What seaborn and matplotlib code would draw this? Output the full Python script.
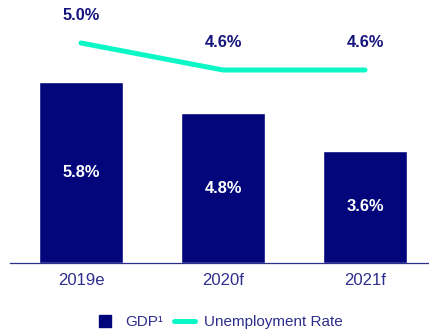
import matplotlib
matplotlib.use("Agg")
import matplotlib.pyplot as plt
from matplotlib.lines import Line2D
import seaborn as sns
import pandas as pd
import numpy as np

categories = ["2019e", "2020f", "2021f"]
gdp = [5.8, 4.8, 3.6]
unemployment = [5.0, 4.6, 4.6]
gdp_labels = ["5.8%", "4.8%", "3.6%"]
unemp_labels = ["5.0%", "4.6%", "4.6%"]

BAR = "#02067A"
LINE = "#0CF7C6"
TXT = "#14147C"
TICK = "#2E2E8C"

sns.set_style("white")
plt.rcParams["font.family"] = ["Liberation Sans", "DejaVu Sans"]

df = pd.DataFrame({"cat": categories, "gdp": gdp, "unemp": unemployment,
                   "pos": np.arange(len(categories))})

fig = plt.figure(figsize=(4.29, 3.35), dpi=100)
ax = fig.add_axes([0, 72 / 335, 1, 263 / 335])
sns.barplot(data=df, x="cat", y="gdp", color=BAR, width=0.59, saturation=1, ax=ax)
ax.set_xlim(-81 / 142, 348 / 142)
ax.set_ylim(0, 263 / 31.2)
for p, lab in zip(ax.patches, gdp_labels):
    ax.text(p.get_x() + p.get_width() / 2, p.get_height() / 2, lab, ha="center", va="center",
            color="white", fontsize=11.8, fontweight="bold")

ax.set_xlabel("")
ax.set_ylabel("")
ax.set_yticks([])
for s in ["top", "right", "left"]:
    ax.spines[s].set_visible(False)
ax.spines["bottom"].set_color(TICK)
ax.spines["bottom"].set_linewidth(0.9)
ax.spines["bottom"].set_bounds(-0.5, 348 / 142)
ax.tick_params(axis="x", which="major", length=0, pad=7, labelsize=12, labelcolor=TICK)
ax.set_xticks([0.5, 1.5], minor=True)
ax.tick_params(axis="x", which="minor", length=5, width=0.9, direction="inout", color=TICK)

ax2 = ax.twinx()
sns.lineplot(data=df, x="pos", y="unemp", color=LINE, linewidth=3.6, ax=ax2,
             solid_capstyle="round")
ax2.set_ylim(5.0 - 220 / 67.5, 5.0 - 220 / 67.5 + 263 / 67.5)
ax2.set_xlim(ax.get_xlim())
ax2.set_yticks([])
ax2.set_ylabel("")
ax2.set_xlabel("")
for s in ["top", "right", "left", "bottom"]:
    ax2.spines[s].set_visible(False)
for x, y, lab in zip(df["pos"], unemployment, unemp_labels):
    ax2.annotate(lab, (x, y), xytext=(0, 20), textcoords="offset points", ha="center",
                 va="center", color=TXT, fontsize=11.8, fontweight="bold")

handles = [Line2D([], [], marker="s", linestyle="none", color=BAR, markersize=8),
           Line2D([], [], color=LINE, linewidth=3.6, solid_capstyle="round")]
fig.legend(handles, ["GDP\u00b9", "Unemployment Rate"], loc="center", ncol=2,
           bbox_to_anchor=(219 / 429, 1 - 322 / 335), frameon=False, fontsize=11,
           labelcolor=TICK, handlelength=1.4, handletextpad=0.6, columnspacing=0.7)

fig.savefig("out.png", dpi=100)
